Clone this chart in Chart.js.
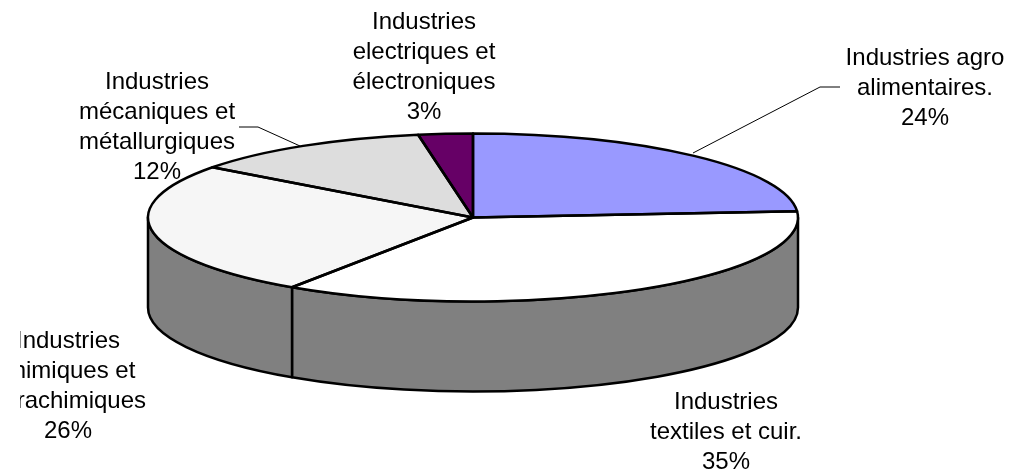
<!DOCTYPE html>
<html><head><meta charset="utf-8">
<style>html,body{margin:0;padding:0;background:#fff}canvas{display:block}</style>
<script src="https://cdn.jsdelivr.net/npm/chart.js@4"></script>
</head><body><canvas id="c" width="1010" height="473"></canvas>
<script>
const categories=["Industries agro alimentaires.","Industries textiles et cuir.","Industries chimiques et parachimiques","Industries mécaniques et métallurgiques","Industries electriques et électroniques"];
const shares=[23.8,35.6,25.8,12.1,2.7];
const sliceColors=["#9999FF","#FFFFFF","#F6F6F6","#DDDDDD","#660066"];
const labelLines=[["Industries agro","alimentaires.","24%"],["Industries","textiles et cuir.","35%"],["Industries","chimiques et","parachimiques","26%"],["Industries","mécaniques et","métallurgiques","12%"],["Industries","electriques et","électroniques","3%"]];
const labelAnchors=[[925,65],[726,409],[68,348],[157,89],[424,29]];
const leaders=[[[693,153],[820,87],[840,87]],[[300,146],[258,127],[239,127]]];
const G={cx:473,cy:217.5,rx:325,ry:84,depth:90,fs:24,lh:30,clipX:20,lw:2.5};
const pie3d={id:'pie3d',
 beforeDatasetsDraw(chart){
  const ctx=chart.ctx,arcs=chart.getDatasetMeta(0).data;
  ctx.save();ctx.lineWidth=G.lw;ctx.strokeStyle='#000';ctx.fillStyle='#808080';ctx.lineJoin='round';
  arcs.forEach(a=>{
   const a0=Math.max(a.startAngle,0),a1=Math.min(a.endAngle,Math.PI);
   if(a1<=a0)return;
   ctx.beginPath();
   ctx.ellipse(G.cx,G.cy,G.rx,G.ry,0,a0,a1);
   ctx.ellipse(G.cx,G.cy+G.depth,G.rx,G.ry,0,a1,a0,true);
   ctx.closePath();ctx.fill();ctx.stroke();
  });
  ctx.restore();
  const o=arcs[0];
  ctx.save();
  ctx.translate(G.cx,G.cy);ctx.scale(G.rx/o.outerRadius,G.ry/o.outerRadius);ctx.translate(-o.x,-o.y);
 },
 afterDatasetsDraw(chart){
  const ctx=chart.ctx,arcs=chart.getDatasetMeta(0).data;
  ctx.restore();
  ctx.save();ctx.lineWidth=G.lw;ctx.strokeStyle='#000';ctx.lineJoin='round';
  arcs.forEach(a=>{
   ctx.beginPath();ctx.moveTo(G.cx,G.cy);
   ctx.ellipse(G.cx,G.cy,G.rx,G.ry,0,a.startAngle,a.endAngle);
   ctx.closePath();ctx.stroke();
  });
  ctx.lineWidth=1;
  leaders.forEach(l=>{ctx.beginPath();l.forEach((p,i)=>i?ctx.lineTo(p[0],p[1]):ctx.moveTo(p[0],p[1]));ctx.stroke();});
  ctx.restore();
  ctx.save();
  ctx.beginPath();ctx.rect(G.clipX,0,1010-G.clipX,473);ctx.clip();
  ctx.font=G.fs+'px "Liberation Sans", Arial, sans-serif';ctx.fillStyle='#000';ctx.textAlign='center';ctx.textBaseline='alphabetic';
  labelLines.forEach((ls,i)=>ls.forEach((t,j)=>ctx.fillText(t,labelAnchors[i][0],labelAnchors[i][1]+j*G.lh)));
  ctx.restore();
 }};
new Chart(document.getElementById('c'),{type:'pie',
 data:{labels:categories,datasets:[{data:shares,backgroundColor:sliceColors,borderWidth:0,clip:false}]},
 options:{responsive:false,animation:false,plugins:{legend:{display:false},tooltip:{enabled:false}}},
 plugins:[pie3d]});
</script></body></html>
